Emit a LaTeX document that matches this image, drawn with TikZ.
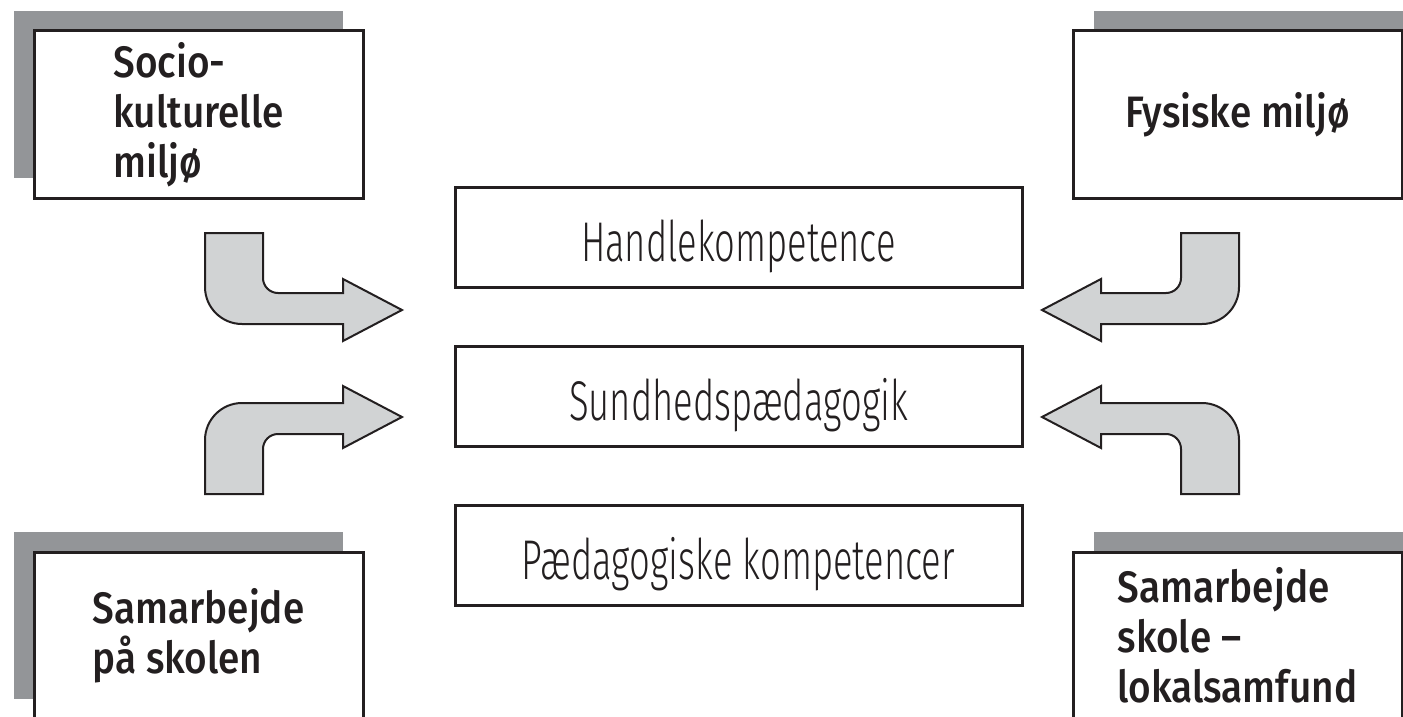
\documentclass[tikz,border=0pt]{standalone}
\usepackage{fontspec}
\usepackage{tikz}
\usetikzlibrary{shadows}
\newfontfamily\labelfont{Fira Sans Medium}[FakeStretch=0.88]
\newfontfamily\thinfont{Fira Sans Light}[FakeStretch=0.65]
\definecolor{shadowgray}{RGB}{147,149,152}
\definecolor{arrowgray}{RGB}{209,211,212}
\definecolor{inkblack}{RGB}{35,31,32}

\begin{document}
\begin{tikzpicture}[x=1pt, y=-1pt,
  cornerbox/.style={draw=inkblack, fill=white, line width=3pt, rectangle, minimum width=329pt, minimum height=167pt, inner sep=0pt, align=left, text=inkblack, font=\labelfont\fontsize{44}{50}\selectfont},
  leftshadow/.style={general shadow={fill=shadowgray, shadow xshift=-20pt, shadow yshift=20pt}},
  rightshadow/.style={general shadow={fill=shadowgray, shadow xshift=21pt, shadow yshift=20pt}},
  mainbox/.style={draw=inkblack, line width=3pt, rectangle, minimum width=567pt, minimum height=100pt, inner sep=0pt, text height=52pt, text depth=4pt, text=inkblack, font=\thinfont\fontsize{56}{60}\selectfont},
  bentarrow/.pic={
    \filldraw[fill=arrowgray, draw=inkblack, line width=2pt]
      (0,-91) -- (0,-37) .. controls (0,-16.6) and (16.6,0) .. (37,0) -- (138,0) -- (138,17) -- (197,-14)
      -- (138,-45) -- (138,-31) -- (73,-31) .. controls (64.7,-31) and (58,-37.7) .. (58,-46) -- (58,-91) -- cycle;
  }]
\useasboundingbox (0,0) rectangle (1403,717);
\clip (0,0) rectangle (1403,717);
% corner boxes
\draw
  node at (198.5,114.5)[cornerbox, leftshadow](socio){Socio-\\kulturelle\\miljø}
  node at (1237.5,114.5)[cornerbox, rightshadow](fysisk){Fysiske miljø}
  node at (198.5,635.5)[cornerbox, leftshadow](skolen){Samarbejde\\på skolen}
  node at (1237.5,635.5)[cornerbox, rightshadow](lokal){Samarbejde\\skole –\\lokalsamfund};
% middle column
\draw
  node at (738.5,237)[mainbox](handle){Handlekompetence}
  node at (738.5,396)[mainbox](sund){Sundhedspædagogik}
  node at (738.5,555.5)[mainbox](paed){Pædagogiske kompetencer};
% bent arrows
\pic at (205,324) {bentarrow};
\pic[yscale=-1] at (205,403) {bentarrow};
\pic[xscale=-1] at (1239,324) {bentarrow};
\pic[xscale=-1, yscale=-1] at (1239,403) {bentarrow};
\end{tikzpicture}
\end{document}
